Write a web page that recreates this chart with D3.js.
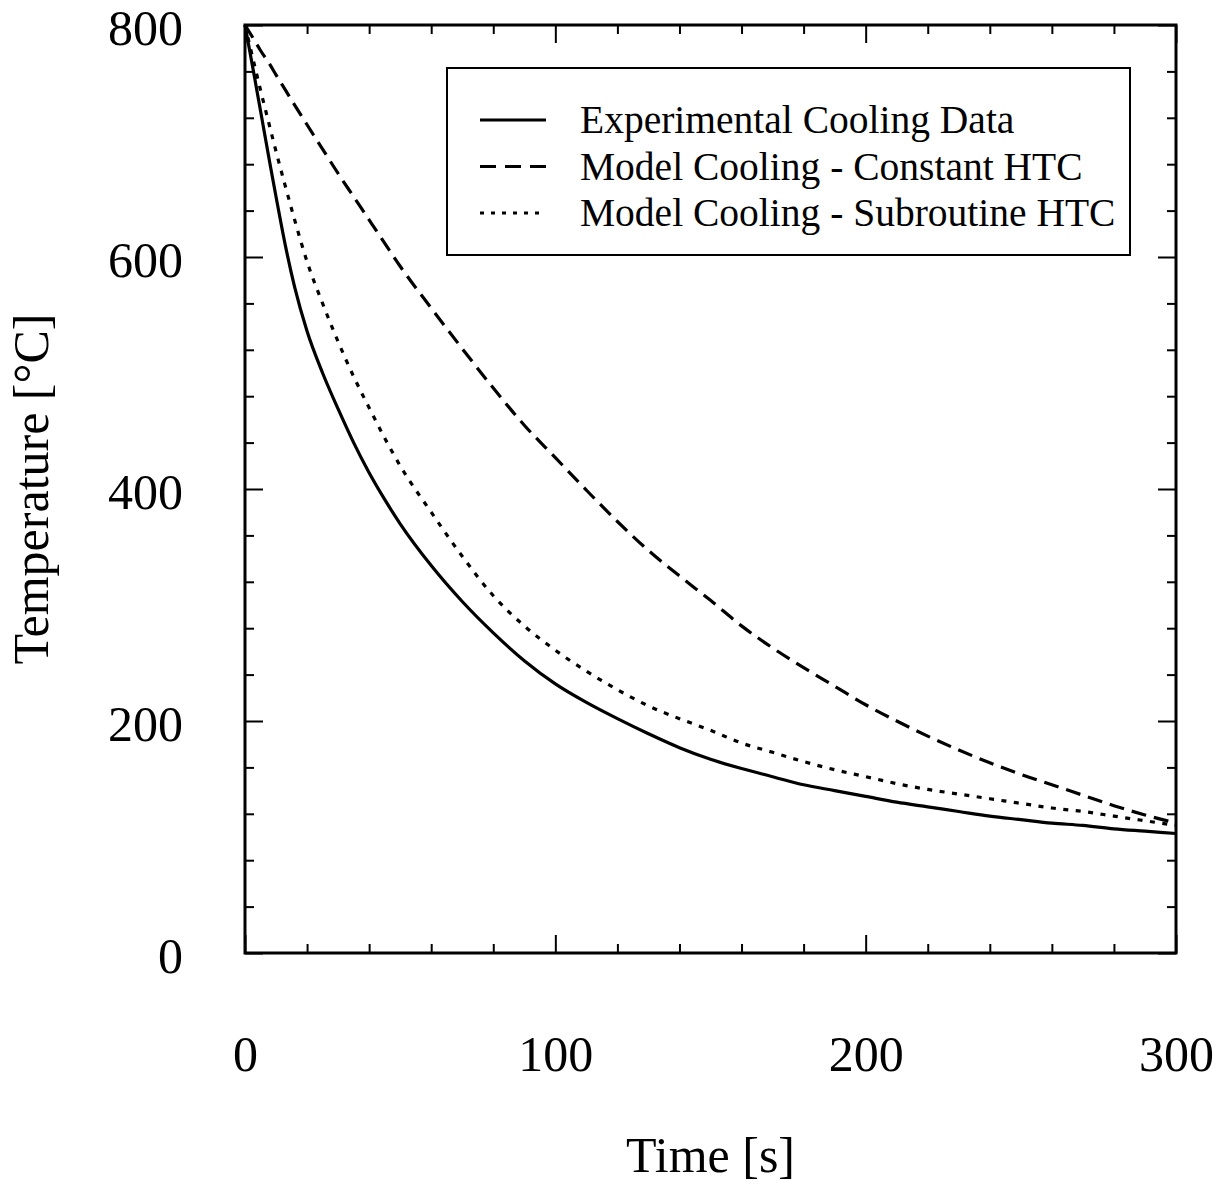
<!DOCTYPE html>
<html>
<head>
<meta charset="utf-8">
<script src="https://cdn.jsdelivr.net/npm/d3@7"></script>
<style>
    body { margin: 0; background: #fff; }
    svg { display: block; }
</style>
</head>
<body>
<div id="chart"></div>
<script>
// time [s]
var times = [0, 3, 5, 8, 10, 13, 16, 20, 25, 30, 35, 40, 45, 50, 60, 70, 80, 90, 100,
    110, 120, 130, 140, 150, 160, 170, 180, 190, 200, 210, 220, 230, 240, 250,
    260, 270, 280, 290, 300];

// temperature [C]
var experimental = [800, 756, 726, 681, 652, 610, 574, 536, 500, 469, 440, 414, 391, 370, 334, 303, 276, 252, 232,
    216, 202, 189, 177, 167, 159, 152, 145, 140, 135, 130, 126, 122, 118, 115,
    112, 110, 107, 105, 103];

var constantHtc = [800, 787, 778, 766, 757, 744, 731, 714, 693, 672, 652, 632, 612, 592, 556, 521, 487, 455, 427,
    399, 372, 347, 325, 304, 282, 263, 246, 230, 214, 200, 187, 175, 164, 154,
    145, 136, 127, 119, 112];

var subroutineHtc = [800, 766, 744, 712, 691, 661, 632, 596, 560, 527, 497, 470, 444, 420, 380, 342, 308, 282, 261,
    243, 227, 213, 202, 192, 181, 173, 165, 158, 152, 146, 141, 137, 133, 129,
    125, 122, 118, 114, 110];

var seriesNames = ['Experimental Cooling Data', 'Model Cooling - Constant HTC', 'Model Cooling - Subroutine HTC'];
var seriesDash = [null, '15,8', '5,7.5'];

var xMajor = [0, 100, 200, 300];
var yMajor = [0, 200, 400, 600, 800];

var width = 1228, height = 1184;
var plotL = 245, plotR = 1176, plotT = 25, plotB = 953;
var font = '"Liberation Serif", "Times New Roman", serif';

var svg = d3.select('#chart').append('svg')
    .attr('width', width)
    .attr('height', height);

var x = d3.scaleLinear().domain([0, 300]).range([plotL, plotR]);
var y = d3.scaleLinear().domain([0, 800]).range([plotB, plotT]);

var xMinor = d3.range(0, 301, 20).filter(function (d) { return xMajor.indexOf(d) < 0; });
var yMinor = d3.range(0, 801, 40).filter(function (d) { return yMajor.indexOf(d) < 0; });

// inward ticks on all four sides
function ticks(axisFn, scale, vals, size, tx, ty, labels, pad) {
    var a = axisFn(scale).tickValues(vals).tickSizeInner(-size).tickSizeOuter(0)
        .tickPadding(pad || 0)
        .tickFormat(labels ? d3.format('d') : '');
    var g = svg.append('g')
        .attr('transform', 'translate(' + tx + ',' + ty + ')')
        .call(a);
    g.select('.domain').remove();
    g.selectAll('line').attr('stroke', '#000').attr('stroke-width', 2);
    g.attr('font-family', font).attr('font-size', 50);
    g.selectAll('text').attr('fill', '#000');
    return g;
}

ticks(d3.axisBottom, x, xMajor, 18, 0, plotB, true, 82);
ticks(d3.axisBottom, x, xMinor, 9, 0, plotB, false);
ticks(d3.axisTop, x, xMajor, 18, 0, plotT, false);
ticks(d3.axisTop, x, xMinor, 9, 0, plotT, false);
var yAx = ticks(d3.axisLeft, y, yMajor, 18, plotL, 0, true, 62);
ticks(d3.axisLeft, y, yMinor, 9, plotL, 0, false);
ticks(d3.axisRight, y, yMajor, 18, plotR, 0, false);
ticks(d3.axisRight, y, yMinor, 9, plotR, 0, false);

yAx.selectAll('text').attr('dy', '0.38em');

// frame
svg.append('rect')
    .attr('x', plotL).attr('y', plotT)
    .attr('width', plotR - plotL).attr('height', plotB - plotT)
    .attr('fill', 'none').attr('stroke', '#000').attr('stroke-width', 3);

// curves
var allSeries = [experimental, constantHtc, subroutineHtc];
var line = d3.line()
    .x(function (d) { return x(d[0]); })
    .y(function (d) { return y(d[1]); })
    .curve(d3.curveMonotoneX);

allSeries.forEach(function (vals, i) {
    svg.append('path')
        .datum(times.map(function (t, k) { return [t, vals[k]]; }))
        .attr('d', line)
        .attr('fill', 'none')
        .attr('stroke', '#000')
        .attr('stroke-width', 3.2)
        .attr('stroke-dasharray', seriesDash[i]);
});

// legend
var lg = svg.append('g');
lg.append('rect')
    .attr('x', 447).attr('y', 68)
    .attr('width', 683).attr('height', 187)
    .attr('fill', '#fff').attr('stroke', '#000').attr('stroke-width', 2);

var legendDash = [null, '16,9', '4,7'];
seriesNames.forEach(function (name, i) {
    var ly = 120 + i * 46.5;
    lg.append('line')
        .attr('x1', 480).attr('x2', 546)
        .attr('y1', ly).attr('y2', ly)
        .attr('stroke', '#000').attr('stroke-width', 3)
        .attr('stroke-dasharray', legendDash[i]);
    lg.append('text')
        .attr('x', 580).attr('y', ly + 13)
        .attr('font-family', font).attr('font-size', 39.5)
        .text(name);
});

// axis titles
svg.append('text')
    .attr('x', (plotL + plotR) / 2).attr('y', 1172)
    .attr('text-anchor', 'middle')
    .attr('font-family', font).attr('font-size', 50)
    .text('Time [s]');

svg.append('text')
    .attr('transform', 'translate(48,489) rotate(-90)')
    .attr('text-anchor', 'middle')
    .attr('font-family', font).attr('font-size', 50)
    .text('Temperature [°C]');
</script>
</body>
</html>
